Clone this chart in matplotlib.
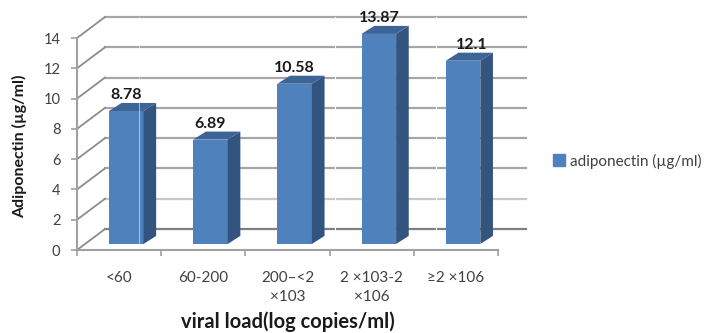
import numpy as np
import matplotlib
matplotlib.use('Agg')
import matplotlib.pyplot as plt
from matplotlib.patches import Polygon

plt.rcParams['font.family'] = ['Lato', 'DejaVu Sans']

categories = ['<60', '60-200', '200–<2\n×103', '2 ×103-2\n×106', '≥2 ×106']
adiponectin = [8.78, 6.89, 10.58, 13.87, 12.1]
value_labels = ['8.78', '6.89', '10.58', '13.87', '12.1']
y_ticks = [0, 2, 4, 6, 8, 10, 12, 14]

# 3d look, all in data units
depth_x = 0.3325
depth_y = 1.387
bar_shift = 0.085
bar_floor = 0.4
bar_w = 0.41
side_x = 0.15
side_y = 0.53

front = '#4f81bd'
side = '#32547e'
top = '#3c6496'
grid = '#a6a6a6'
text_col = '#404040'

fig = plt.figure(figsize=(7.07, 3.33), dpi=100)
ax = fig.add_axes([77/707, (333-250)/333, 421/707, 212/333])
ax.set_xlim(0, 5)
ax.set_ylim(0, 14)

# back wall gridlines + the slanted bits on the side wall
for t in y_ticks:
    if t == 0:
        c = '#7f7f7f'
    elif t == 2:
        c = '#c8c8c8'
    else:
        c = grid
    ax.plot([depth_x, 5 + depth_x], [t + depth_y, t + depth_y], color=c, lw=1.6, clip_on=False, zorder=1)
    ax.plot([0, depth_x], [t, t + depth_y], color='#8c8c8c', lw=1.3, clip_on=False, zorder=1)

xpos = np.arange(len(categories)) + 0.5 + bar_shift
ax.bar(xpos, adiponectin, bar_w, bottom=bar_floor, color=front, zorder=3, clip_on=False)

for x, v, lab in zip(xpos, adiponectin, value_labels):
    r = x + bar_w / 2
    l = x - bar_w / 2
    h = v + bar_floor
    ax.add_patch(Polygon([(r, bar_floor), (r + side_x, bar_floor + side_y), (r + side_x, h + side_y), (r, h)],
                         color=side, lw=0, zorder=3, clip_on=False))
    ax.add_patch(Polygon([(l, h), (l + side_x, h + side_y), (r + side_x, h + side_y), (r, h)],
                         color=top, lw=0, zorder=3, clip_on=False))
    # 12.1 sits off to the right in the original
    off = 0.1 if lab == '12.1' else 0
    ax.text(x + off, h + side_y + 0.5, lab, ha='center', va='center', fontsize=11.5, fontweight='bold',
            color='#1a1a1a', zorder=5, clip_on=False)

# pale scan lines in the original
ax.plot([0.737, 0.737], [0.4, 15.4], color='white', lw=0.8, alpha=0.5, zorder=4, clip_on=False)
for x0 in [3.067, 4.258]:
    ax.plot([x0, x0], [0.4, 15.4], color='white', lw=0.8, zorder=2, clip_on=False)

for s in ['top', 'right']:
    ax.spines[s].set_visible(False)
for s in ['left', 'bottom']:
    ax.spines[s].set_color('#a0a0a0')
    ax.spines[s].set_linewidth(1.5)
    ax.spines[s].set_zorder(4)

ax.set_yticks(y_ticks)
ax.set_xticks(np.arange(6))
ax.set_xticklabels([])
ax.set_xticks(np.arange(len(categories)) + 0.5, categories, minor=True)
ax.tick_params(axis='y', length=4, width=1.2, color='#a0a0a0', labelcolor=text_col, labelsize=10.5, pad=8)
ax.tick_params(axis='x', which='major', length=4, width=1.2, color='#a0a0a0')
ax.tick_params(axis='x', which='minor', length=0, labelcolor=text_col, labelsize=11, pad=15)
for t in ax.get_xticklabels(minor=True):
    t.set_linespacing(1.5)

fig.text(288/707, 1 - 322/333, 'viral load(log copies/ml)', ha='center', va='center', fontsize=14.5, fontweight='bold', color='#1a1a1a')
fig.text(20/707, 1 - 146/333, 'Adiponectin (µg/ml)', ha='center', va='center', rotation=90, fontsize=11.5, fontweight='bold', color='#1a1a1a')

h = plt.Rectangle((0, 0), 1, 1, color=front)
fig.legend([h], ['adiponectin (µg/ml)'], loc='center left', bbox_to_anchor=(553/707, 1 - 161/333), frameon=False,
           fontsize=11, labelcolor=text_col, handlelength=0.8, handleheight=0.8, handletextpad=0.3, borderpad=0, borderaxespad=0)

fig.savefig('out.png', dpi=100)
